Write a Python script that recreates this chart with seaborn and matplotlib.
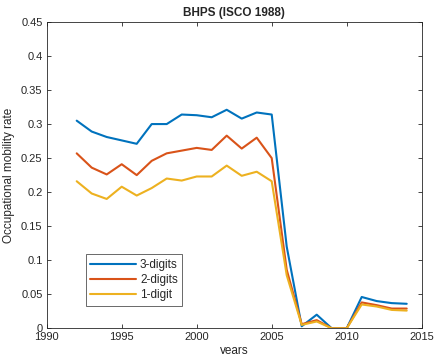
import numpy as np
import pandas as pd
import matplotlib
matplotlib.use("Agg")
import matplotlib.pyplot as plt
import seaborn as sns

years = list(range(1992, 2015))
three_digits = [0.305, 0.289, 0.281, 0.276, 0.271, 0.300, 0.300, 0.314, 0.313, 0.310, 0.321, 0.308, 0.317, 0.314,
                0.120, 0.003, 0.020, 0.000, 0.000, 0.046, 0.040, 0.037, 0.036]
two_digits = [0.257, 0.236, 0.226, 0.241, 0.225, 0.246, 0.257, 0.261, 0.265, 0.262, 0.283, 0.264, 0.280, 0.250,
              0.086, 0.006, 0.012, 0.000, 0.000, 0.038, 0.034, 0.029, 0.029]
one_digit = [0.216, 0.198, 0.190, 0.208, 0.195, 0.206, 0.220, 0.217, 0.223, 0.223, 0.239, 0.224, 0.230, 0.216,
             0.078, 0.005, 0.010, 0.000, 0.000, 0.035, 0.032, 0.027, 0.026]
series_names = ["3-digits", "2-digits", "1-digit"]
colors = ["#0072BD", "#D95319", "#EDB120"]
xticks = [1990, 1995, 2000, 2005, 2010, 2015]
yticks = [0, 0.05, 0.1, 0.15, 0.2, 0.25, 0.3, 0.35, 0.4, 0.45]

df = pd.DataFrame({
    "years": years * 3,
    "rate": three_digits + two_digits + one_digit,
    "series": [series_names[0]] * len(years) + [series_names[1]] * len(years) + [series_names[2]] * len(years),
})

sns.set_style("white")
plt.rcParams['font.family'] = ['Liberation Sans', 'DejaVu Sans']

fig = plt.figure(figsize=(4.34, 3.54), dpi=100)
ax = fig.add_axes([0.1076, 0.0726, 0.8641, 0.8654])
sns.lineplot(data=df, x="years", y="rate", hue="series", hue_order=series_names,
             palette=colors, linewidth=1.5, ax=ax)

ax.set_xlim(1990, 2015)
ax.set_ylim(0, 0.45)
ax.set_xticks(xticks)
ax.set_xticklabels([str(t) for t in xticks])
ax.set_yticks(yticks)
ax.set_yticklabels(["0"] + [f"{t:g}" for t in yticks[1:]])
for s in ax.spines.values():
    s.set_visible(True)
    s.set_color("#262626")
    s.set_linewidth(0.6)
ax.tick_params(direction="in", length=3, width=0.6, labelsize=8, colors="#262626",
               top=True, right=True, bottom=True, left=True, labeltop=False, labelright=False, pad=3)
ax.set_xlabel("years", fontsize=8.5, labelpad=2)
ax.set_ylabel("Occupational mobility rate", fontsize=8.5, labelpad=4)
ax.set_title("BHPS (ISCO 1988)", fontsize=8.5, fontweight="bold", pad=4)

leg = ax.legend(loc="lower left", bbox_to_anchor=(0.104, 0.074), borderaxespad=0, fontsize=8.5,
                frameon=True, fancybox=False, edgecolor="#262626", handlelength=3.9,
                borderpad=0.4, labelspacing=0.25, handletextpad=0.3)
leg.get_frame().set_linewidth(0.6)
leg.set_title(None)

fig.savefig("out.png", dpi=100)
